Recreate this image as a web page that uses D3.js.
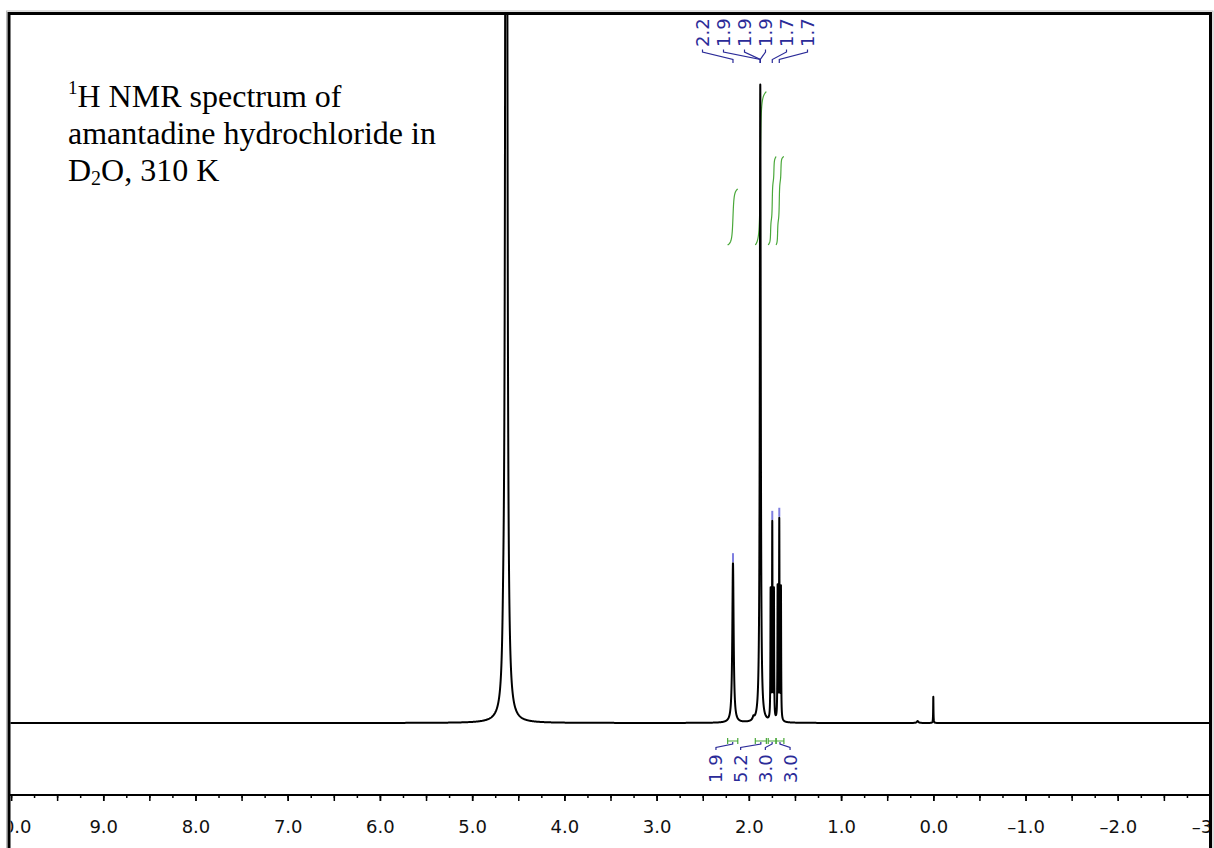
<!DOCTYPE html>
<html><head><meta charset="utf-8">
<script src="https://cdn.jsdelivr.net/npm/d3@7"></script>
<style>body{margin:0;background:#fff}</style>
</head><body>
<svg id="c" width="1214" height="848" xmlns="http://www.w3.org/2000/svg"></svg>
<script>
// ---------- data ----------
const peakShifts  = [4.630, 4.662, 2.172, 1.950, 1.876, 1.746, 1.764, 1.728, 1.670, 1.688, 1.652, 0.170, 0.000];
const peakHeights = [430,   5,     25,    0.5,   100,   30.6,  20,    20,    31.2,  20.5,  20.5,  0.3,   4.1];
const peakWidths  = [0.0072,0.012, 0.0085,0.010, 0.006, 0.003, 0.0025,0.0025,0.003, 0.0025,0.0025,0.010, 0.002];

const axisLabelPpm = [10, 9, 8, 7, 6, 5, 4, 3, 2, 1, 0, -1, -2, -3];
const peakLabels = ["2.2", "1.9", "1.9", "1.9", "1.7", "1.7"];
const peakLabelShifts = [2.172, 1.876, 1.876, 1.876, 1.746, 1.670];
const peakMarkShifts = [2.172, 1.746, 1.670];
const integralLabels = ["1.9", "5.2", "3.0", "3.0"];
const integralValues = [1.9, 5.2, 3.0, 3.0];
const integralFrom = [2.23, 1.93, 1.79, 1.705];
const integralTo   = [2.12, 1.81, 1.705, 1.62];
const titleLines = ["H NMR spectrum of", "amantadine hydrochloride in", "D", "O, 310 K"];

// ---------- layout ----------
const svg = d3.select("#c");
const frame = {x0: 9, x1: 1210.5, y0: 13.5};
const x = d3.scaleLinear().domain([10, -3]).range([11, 1210]);
const y = d3.scaleLinear().domain([0, 100]).range([723, 85]);
const axisY = 795;
const navy = "#2b2b98", green = "#4aa83a", tickBlue = "#7f7fe0";

svg.append("defs").append("clipPath").attr("id", "plotClip")
  .append("rect").attr("x", frame.x0 + 1.5).attr("y", frame.y0 + 1.5)
  .attr("width", frame.x1 - frame.x0 - 3).attr("height", 900);

// spectrum model: sum of line shapes at the read peak positions
function intensity(p) {
  let s = 0;
  for (let i = 0; i < peakShifts.length; i++) {
    const d = (p - peakShifts[i]) / peakWidths[i];
    s += peakHeights[i] / (1 + d * d);
  }
  return s;
}
let samples = d3.range(-3.05, 10.05, 0.004);
peakShifts.forEach(c => { samples = samples.concat(d3.range(c - 0.12, c + 0.12, 0.0002)); });
samples.sort((a, b) => b - a);
const spec = samples.map(p => [p, intensity(p)]);

const g = svg.append("g").attr("clip-path", "url(#plotClip)");

// integral curves
integralFrom.forEach((a, k) => {
  const b = integralTo[k];
  const pts = spec.filter(d => d[0] <= a && d[0] >= b);
  let cum = 0; const c = [];
  for (let i = 0; i < pts.length; i++) {
    if (i > 0) cum += (pts[i - 1][1] + pts[i][1]) / 2 * (pts[i - 1][0] - pts[i][0]);
    c.push([pts[i][0], cum]);
  }
  const tot = cum;
  const iy = d3.scaleLinear().domain([0, 1]).range([245, 245 - integralValues[k] * 29.5]);
  g.append("path").attr("d", d3.line().x(d => x(d[0])).y(d => iy(d[1] / tot))(c))
    .attr("fill", "none").attr("stroke", green).attr("stroke-width", 1.2);
});

// peak marks
peakMarkShifts.forEach(p => {
  const top = y(intensity(p));
  g.append("line").attr("x1", x(p)).attr("x2", x(p)).attr("y1", top - 10).attr("y2", top - 1)
    .attr("stroke", tickBlue).attr("stroke-width", 2);
});

// spectrum line
g.append("path").attr("d", d3.line().x(d => x(d[0])).y(d => Math.max(-50, y(d[1])))(spec))
  .attr("fill", "none").attr("stroke", "#000").attr("stroke-width", 2).attr("stroke-linejoin", "round");

// top peak labels
const topCenter = 755, topStep = 21;
peakLabels.forEach((t, i) => {
  const lx = topCenter + (i - (peakLabels.length - 1) / 2) * topStep;
  const px = x(peakLabelShifts[i]);
  svg.append("text").attr("transform", `translate(${lx + 6.5},47) rotate(-90)`)
    .attr("font-family", "DejaVu Sans, sans-serif").attr("font-size", 18).attr("fill", navy).text(t);
  svg.append("path").attr("d", `M${lx},49.5 L${lx},52 L${px},59.5 L${px},63`)
    .attr("fill", "none").attr("stroke", navy).attr("stroke-width", 1.2);
});

// integral brackets and labels
const botCenter = 753, botStep = 24.7;
integralFrom.forEach((a, k) => {
  const xa = x(a), xb = x(integralTo[k]);
  svg.append("path").attr("d", `M${xa},738 L${xa},744 M${xa},741 L${xb},741 M${xb},738 L${xb},744`)
    .attr("fill", "none").attr("stroke", green).attr("stroke-width", 1.2);
  const lx = botCenter + (k - 1.5) * botStep;
  const hx = (xa + xb) / 2;
  svg.append("path").attr("d", `M${lx},750 L${lx},747.5 L${hx},744 L${hx},742`)
    .attr("fill", "none").attr("stroke", navy).attr("stroke-width", 1.2);
  svg.append("text").attr("transform", `translate(${lx + 6.5},783) rotate(-90)`)
    .attr("font-family", "DejaVu Sans, sans-serif").attr("font-size", 18).attr("fill", navy)
    .text(integralLabels[k]);
});

// axis
const fmt = d => (d < 0 ? "\u2013" + Math.abs(d).toFixed(1) : d.toFixed(1));
const axG = svg.append("g").attr("clip-path", "url(#plotClip)");
axG.append("g").attr("transform", `translate(0,${axisY})`)
  .call(d3.axisBottom(x).tickValues(d3.range(-3, 10.01, 0.25)).tickSize(3).tickSizeOuter(0).tickFormat(""))
  .call(s => s.select(".domain").remove())
  .call(s => s.selectAll("line").attr("stroke-width", 1.5));
axG.append("g").attr("transform", `translate(0,${axisY})`)
  .call(d3.axisBottom(x).tickValues(d3.range(-3, 10.01, 0.5)).tickSize(6).tickSizeOuter(0).tickFormat(""))
  .call(s => s.select(".domain").remove())
  .call(s => s.selectAll("line").attr("stroke-width", 1.5));
axG.append("g").attr("transform", `translate(0,${axisY})`)
  .call(d3.axisBottom(x).tickValues(axisLabelPpm).tickSize(6).tickPadding(19).tickSizeOuter(0).tickFormat(fmt))
  .call(s => s.select(".domain").remove())
  .call(s => s.selectAll("line").attr("stroke-width", 1.5))
  .call(s => s.selectAll("text").attr("font-family", "DejaVu Sans, sans-serif").attr("font-size", 18).attr("fill", "#111"));
svg.append("line").attr("x1", frame.x0).attr("x2", frame.x1).attr("y1", axisY).attr("y2", axisY)
  .attr("stroke", "#000").attr("stroke-width", 2);

// frame
svg.append("rect").attr("x", frame.x0 - 2.5).attr("y", frame.y0 - 2.5)
  .attr("width", frame.x1 - frame.x0 + 5).attr("height", 900)
  .attr("fill", "none").attr("stroke", "#bbb").attr("stroke-width", 1);
svg.append("rect").attr("x", frame.x0).attr("y", frame.y0)
  .attr("width", frame.x1 - frame.x0).attr("height", 900)
  .attr("fill", "none").attr("stroke", "#000").attr("stroke-width", 3);

// title text
const tf = "Liberation Serif, Times New Roman, serif";
const t1 = svg.append("text").attr("x", 68).attr("y", 107).attr("font-family", tf).attr("font-size", 32).attr("fill", "#000");
t1.append("tspan").attr("font-size", 19).attr("dy", -13).text("1");
t1.append("tspan").attr("dy", 13).text(titleLines[0]);
svg.append("text").attr("x", 68).attr("y", 144).attr("font-family", tf).attr("font-size", 32).attr("fill", "#000").text(titleLines[1]);
const t3 = svg.append("text").attr("x", 68).attr("y", 181).attr("font-family", tf).attr("font-size", 32).attr("fill", "#000");
t3.append("tspan").text(titleLines[2]);
t3.append("tspan").attr("font-size", 20).attr("dy", 4).text("2");
t3.append("tspan").attr("dy", -4).text(titleLines[3]);
</script>
</body></html>
